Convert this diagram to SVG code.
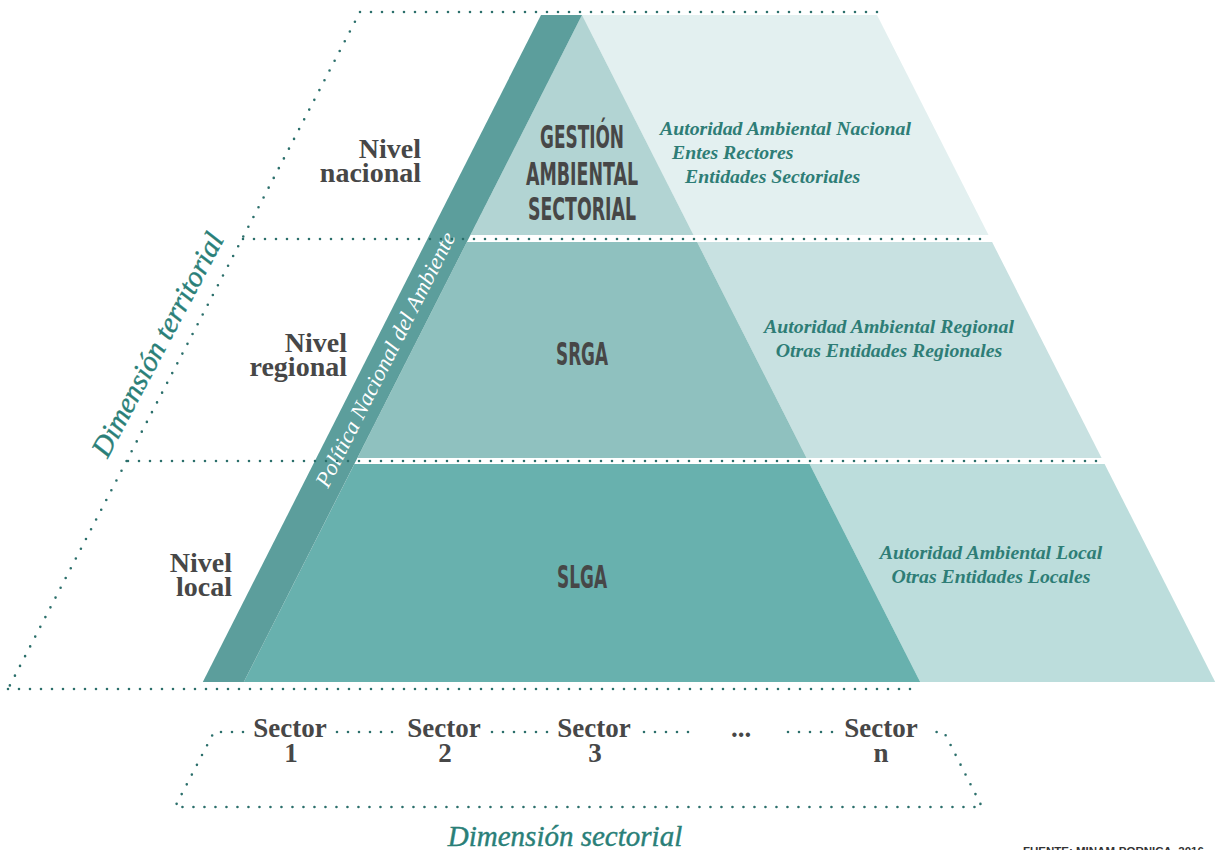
<svg xmlns="http://www.w3.org/2000/svg" width="1222" height="850" viewBox="0 0 1222 850">
<style>
.dot{fill:none;stroke:#2b6f6b;stroke-width:2.6;stroke-linecap:round;stroke-dasharray:0 11}
.lvl{font-family:"Liberation Serif",serif;font-weight:bold;font-size:28px;fill:#474747;text-anchor:end}
.sec{font-family:"Liberation Serif",serif;font-weight:bold;font-size:27px;fill:#474747;text-anchor:middle}
.cap{font-family:"DejaVu Sans Condensed","DejaVu Sans",sans-serif;font-weight:bold;font-size:32px;fill:#474747;text-anchor:middle}
.ent{font-family:"Liberation Serif",serif;font-style:italic;font-weight:bold;font-size:19.8px;fill:#2e7d76}
.dim{font-family:"Liberation Serif",serif;font-style:italic;font-size:29px;fill:#2a7f78;text-anchor:middle;stroke:#2a7f78;stroke-width:0.4}
.pol{font-family:"Liberation Serif",serif;font-style:italic;font-size:22.5px;fill:#ffffff;text-anchor:middle}
</style>
<rect width="1222" height="850" fill="#ffffff"/>

<g id="tier-nacional">
<polygon points="582,15 877,15 988.5,235 693.5,235" fill="#e3f0f0"/>
<polygon points="582,15 693.5,235 470.5,235" fill="#b2d4d3"/>
</g>
<g id="tier-regional">
<polygon points="697.1,242 992.1,242 1101.6,458 806.6,458" fill="#c8e1e1"/>
<polygon points="466.9,242 697.1,242 806.6,458 357.4,458" fill="#8fc1bf"/>
</g>
<g id="tier-local">
<polygon points="809.6,464 1104.6,464 1215.2,682 920.2,682" fill="#bcdddc"/>
<polygon points="354.4,464 809.6,464 920.2,682 243.8,682" fill="#68b1ae"/>
</g>
<g id="politica">
<polygon points="541,15 582,15 243.8,682 202.8,682" fill="#5c9e9c"/>
<text class="pol" transform="translate(392,363) rotate(-63.1)">Política Nacional del Ambiente</text>
</g>

<g id="connectors">
<path class="dot" d="M877,12 L360,12 L8,689"/>
<path class="dot" d="M243,239 H990"/>
<path class="dot" d="M128,461 H1103"/>
<path class="dot" d="M8,689 H920"/>
<path class="dot" d="M243,732 H214 L175,807 H982 L944,732 H929"/>
<path class="dot" d="M337,732 H393"/>
<path class="dot" d="M492,732 H550"/>
<path class="dot" d="M644,732 H691"/>
<path class="dot" d="M788,732 H833"/>
</g>

<g id="label-gestion">
<text class="cap" x="582" y="148" textLength="84" lengthAdjust="spacingAndGlyphs">GESTIÓN</text>
<text class="cap" x="582" y="185" textLength="112" lengthAdjust="spacingAndGlyphs">AMBIENTAL</text>
<text class="cap" x="582" y="220" textLength="108" lengthAdjust="spacingAndGlyphs">SECTORIAL</text>
</g>
<g id="label-srga"><text class="cap" x="582" y="365" textLength="52" lengthAdjust="spacingAndGlyphs">SRGA</text></g>
<g id="label-slga"><text class="cap" x="582" y="588" textLength="50" lengthAdjust="spacingAndGlyphs">SLGA</text></g>

<g id="entes-nacional">
<text class="ent" x="660" y="135">Autoridad Ambiental Nacional</text>
<text class="ent" x="672" y="159">Entes Rectores</text>
<text class="ent" x="685" y="183">Entidades Sectoriales</text>
</g>
<g id="entes-regional">
<text class="ent" x="889" y="333" text-anchor="middle">Autoridad Ambiental Regional</text>
<text class="ent" x="889" y="357" text-anchor="middle">Otras Entidades Regionales</text>
</g>
<g id="entes-local">
<text class="ent" x="991" y="559" text-anchor="middle">Autoridad Ambiental Local</text>
<text class="ent" x="991" y="583" text-anchor="middle">Otras Entidades Locales</text>
</g>

<g id="niveles">
<text class="lvl" x="421" y="158">Nivel</text>
<text class="lvl" x="421" y="182">nacional</text>
<text class="lvl" x="347" y="352">Nivel</text>
<text class="lvl" x="347" y="376">regional</text>
<text class="lvl" x="232" y="572">Nivel</text>
<text class="lvl" x="232" y="596">local</text>
</g>

<g id="dimension-territorial">
<text class="dim" transform="translate(166,349) rotate(-62)">Dimensión territorial</text>
</g>

<g id="sectores">
<text class="sec" x="290" y="737">Sector</text><text class="sec" x="291" y="762">1</text>
<text class="sec" x="444" y="737">Sector</text><text class="sec" x="445" y="762">2</text>
<text class="sec" x="594" y="737">Sector</text><text class="sec" x="595" y="762">3</text>
<text class="sec" x="741" y="737">...</text>
<text class="sec" x="881" y="737">Sector</text><text class="sec" x="881" y="762">n</text>
</g>

<g id="dimension-sectorial">
<text class="dim" x="565" y="846" font-size="28">Dimensión sectorial</text>
</g>

<g id="fuente">
<text x="1023" y="855" font-family="Liberation Sans,sans-serif" font-weight="bold" font-size="11.5" fill="#333333">FUENTE: MINAM-PORNICA, 2016</text>
</g>
</svg>
